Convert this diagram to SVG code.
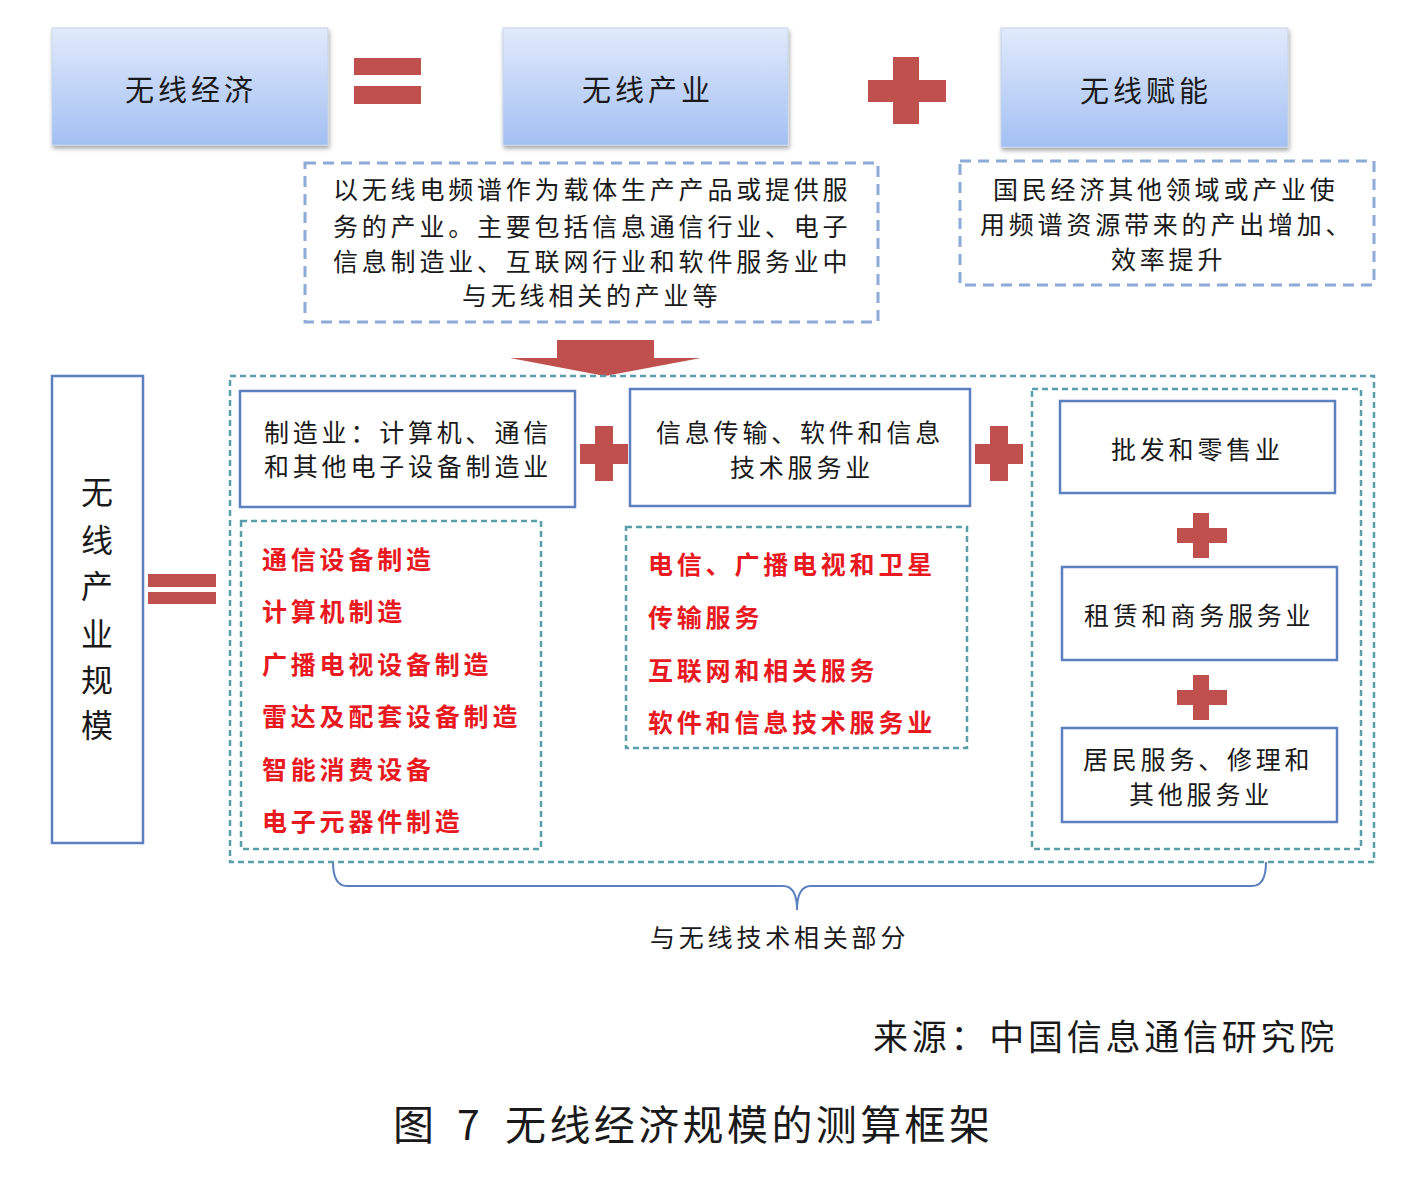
<svg xmlns="http://www.w3.org/2000/svg" width="1401" height="1181" viewBox="0 0 1401 1181">
<style>
.t{font-family:"Noto Sans CJK SC","Noto Sans",sans-serif;fill:#1a1a1a;font-size:25px;letter-spacing:3.8px}
.top{font-size:29px;letter-spacing:4px}
.red{fill:#e8191f;font-weight:bold}
.solid{fill:#fff;stroke:#5b7fbf;stroke-width:2.5}
.dashb{fill:#fff;stroke:#8eaad8;stroke-width:3;stroke-dasharray:11 7}
.dasht{fill:none;stroke:#5a9eaa;stroke-width:2.5;stroke-dasharray:6 4}
.rd{fill:#c0504d}
</style>
<defs>
<linearGradient id="g" x1="0" y1="0" x2="0" y2="1">
<stop offset="0" stop-color="#e1eafb"/>
<stop offset="1" stop-color="#a3c0f3"/>
</linearGradient>
<filter id="sh" x="-10%" y="-10%" width="120%" height="130%">
<feDropShadow dx="1" dy="3" stdDeviation="2" flood-color="#000" flood-opacity="0.35"/>
</filter>
</defs>
<rect width="1401" height="1181" fill="#fff"/>

<g id="wireless-economy">
<rect x="52" y="28" width="276" height="117" fill="url(#g)" stroke="#c5d3ea" stroke-width="1" filter="url(#sh)"/>
<text class="t top" x="125" y="101">无线经济</text>
</g>
<g id="eq-top">
<rect class="rd" x="354" y="58" width="67" height="17"/>
<rect class="rd" x="354" y="86" width="67" height="18"/>
</g>
<g id="wireless-industry">
<rect x="503" y="28" width="285" height="117" fill="url(#g)" stroke="#c5d3ea" stroke-width="1" filter="url(#sh)"/>
<text class="t top" x="582" y="101">无线产业</text>
</g>
<g id="plus-top">
<rect class="rd" x="893" y="57" width="26" height="67"/>
<rect class="rd" x="868" y="80" width="78" height="22"/>
</g>
<g id="wireless-empower">
<rect x="1001" y="28" width="287" height="119" fill="url(#g)" stroke="#c5d3ea" stroke-width="1" filter="url(#sh)"/>
<text class="t top" x="1080" y="102">无线赋能</text>
</g>

<g id="industry-desc">
<rect class="dashb" x="305" y="163" width="573" height="159"/>
<text class="t" x="333" y="199">以无线电频谱作为载体生产产品或提供服</text>
<text class="t" x="333" y="236">务的产业。主要包括信息通信行业、电子</text>
<text class="t" x="333" y="271">信息制造业、互联网行业和软件服务业中</text>
<text class="t" x="462" y="305">与无线相关的产业等</text>
</g>
<g id="empower-desc">
<rect class="dashb" x="960" y="161" width="414" height="124"/>
<text class="t" x="993" y="199">国民经济其他领域或产业使</text>
<text class="t" x="980" y="234">用频谱资源带来的产出增加、</text>
<text class="t" x="1111" y="269">效率提升</text>
</g>

<g id="connectors">
<path class="rd" d="M557,340 H654 V358 H701 L605,376 L510,358 H557 Z"/>
<path d="M333,862 Q333,886 347,886 L783,886 Q797,886 797,910 Q797,886 811,886 L1252,886 Q1266,886 1266,862" fill="none" stroke="#5b7fbf" stroke-width="2"/>
</g>

<g id="scale-box">
<rect class="solid" x="52" y="376" width="91" height="467"/>
<g class="t" style="font-size:32px;letter-spacing:0" text-anchor="middle">
<text x="97" y="504">无</text>
<text x="97" y="552">线</text>
<text x="97" y="598">产</text>
<text x="97" y="646">业</text>
<text x="97" y="692">规</text>
<text x="97" y="737">模</text>
</g>
</g>
<g id="eq-left">
<rect class="rd" x="148" y="574" width="68" height="13"/>
<rect class="rd" x="148" y="592" width="68" height="12"/>
</g>

<g id="related-container">
<rect class="dasht" x="230" y="376" width="1144" height="486"/>
</g>

<g id="manufacturing">
<rect class="solid" x="240" y="391" width="335" height="116"/>
<text class="t" x="264" y="442">制造业：计算机、通信</text>
<text class="t" x="264" y="476">和其他电子设备制造业</text>
</g>
<g id="plus-1">
<rect class="rd" x="595" y="426" width="18" height="55"/>
<rect class="rd" x="580" y="444" width="48" height="20"/>
</g>
<g id="info-service">
<rect class="solid" x="630" y="389" width="340" height="117"/>
<text class="t" x="656" y="442">信息传输、软件和信息</text>
<text class="t" x="730" y="477">技术服务业</text>
</g>
<g id="plus-2">
<rect class="rd" x="990" y="426" width="18" height="55"/>
<rect class="rd" x="975" y="444" width="48" height="20"/>
</g>

<g id="manufacturing-list">
<rect class="dasht" x="241" y="521" width="300" height="328"/>
<text class="t red" x="262" y="569">通信设备制造</text>
<text class="t red" x="262" y="621">计算机制造</text>
<text class="t red" x="262" y="674">广播电视设备制造</text>
<text class="t red" x="262" y="726">雷达及配套设备制造</text>
<text class="t red" x="262" y="779">智能消费设备</text>
<text class="t red" x="262" y="831">电子元器件制造</text>
</g>
<g id="service-list">
<rect class="dasht" x="626" y="527" width="341" height="221"/>
<text class="t red" x="648" y="574">电信、广播电视和卫星</text>
<text class="t red" x="648" y="627">传输服务</text>
<text class="t red" x="648" y="680">互联网和相关服务</text>
<text class="t red" x="648" y="732">软件和信息技术服务业</text>
</g>

<g id="other-services">
<rect class="dasht" x="1032" y="389" width="329" height="460"/>
</g>
<g id="wholesale">
<rect class="solid" x="1060" y="401" width="275" height="92"/>
<text class="t" x="1111" y="459">批发和零售业</text>
</g>
<g id="plus-3">
<rect class="rd" x="1193" y="513" width="16" height="45"/>
<rect class="rd" x="1177" y="528" width="50" height="15"/>
</g>
<g id="leasing">
<rect class="solid" x="1062" y="567" width="275" height="93"/>
<text class="t" x="1084" y="625">租赁和商务服务业</text>
</g>
<g id="plus-4">
<rect class="rd" x="1193" y="675" width="16" height="45"/>
<rect class="rd" x="1177" y="690" width="50" height="15"/>
</g>
<g id="resident">
<rect class="solid" x="1062" y="728" width="275" height="94"/>
<text class="t" x="1083" y="769">居民服务、修理和</text>
<text class="t" x="1129" y="804">其他服务业</text>
</g>

<g id="brace-label">
<text class="t" x="650" y="947">与无线技术相关部分</text>
</g>
<g id="source">
<text class="t" style="font-size:35px;letter-spacing:3.75px" x="873" y="1050">来源：中国信息通信研究院</text>
</g>
<g id="caption">
<text class="t" style="font-size:41px;letter-spacing:0" y="1140"><tspan x="393">图</tspan><tspan x="457">7</tspan><tspan x="505" style="letter-spacing:3.4px">无线经济规模的测算框架</tspan></text>
</g>
</svg>
